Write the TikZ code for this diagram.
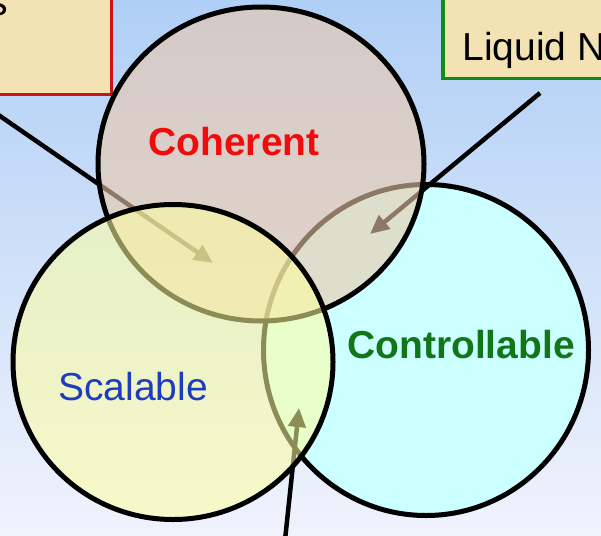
\documentclass[tikz,border=0pt]{standalone}
\usepackage{fontspec}
\setmainfont{Liberation Sans}
\usetikzlibrary{arrows.meta,shapes.geometric}
\definecolor{bgtop}{RGB}{176,207,246}
\definecolor{bgbottom}{RGB}{240,243,252}
\definecolor{boxfill}{RGB}{242,226,180}
\definecolor{boxred}{RGB}{204,20,20}
\definecolor{boxgreen}{RGB}{20,140,20}
\definecolor{cohfill}{RGB}{235,200,170}
\definecolor{scafill}{RGB}{255,255,160}
\definecolor{confill}{RGB}{204,255,255}
\definecolor{cohred}{RGB}{240,12,12}
\definecolor{scablue}{RGB}{30,60,190}
\definecolor{congreen}{RGB}{16,118,24}
\def\bigfont{\fontsize{39}{47}\selectfont}
\tikzset{
	venn/.style={ellipse, draw=black, line width=5pt, inner sep=0pt},
	pointer/.style={line width=4.5pt, -{Triangle[length=19pt,width=17pt]}},
	infobox/.style={rectangle, line width=3.5pt, fill=boxfill, inner sep=0pt, minimum width=300pt, minimum height=200pt},
	setlabel/.style={anchor=base, font=\bigfont}
}

\begin{document}
\begin{tikzpicture}[x=1pt,y=-1pt]
				\useasboundingbox (0,0) rectangle (601,535);
				\shade[top color=bgtop, bottom color=bgbottom] (0,0) rectangle (601,535);
				
				\node[infobox, draw=boxred, anchor=south east] (lbox) at (113,96) {};
				\node[anchor=base east, font=\bigfont] (ltext) at (12,16) {s};
				\node[infobox, draw=boxgreen, anchor=south west] (rbox) at (441,80) {};
				\node[anchor=base west, font=\fontsize{39}{47}\selectfont] (rtext) at (459,60) {Liquid N};
				
				\node[venn, fill=confill, minimum width=325pt, minimum height=331pt] (con) at (426,350) {};
				
				\coordinate (lfoot) at (-29,96);
				\coordinate (ltip) at (213,263);
				\coordinate (rfoot) at (540,93);
				\coordinate (rtip) at (370,234);
				\coordinate (bfoot) at (285,540);
				\coordinate (btip) at (299,408);
				\draw[pointer] (lfoot) -- (ltip);
				\draw[pointer] (rfoot) -- (rtip);
				\draw[pointer] (bfoot) -- (btip);
				
				\node[venn, fill=cohfill, fill opacity=0.6, minimum width=326pt, minimum height=314pt] (coh) at (261,164) {};
				\node[venn, fill=scafill, fill opacity=0.55, minimum width=320pt, minimum height=315pt] (sca) at (173,362) {};
				
				\node[setlabel, text=cohred] (cohlabel) at (234,155) {\bfseries Coherent};
				\node[setlabel, text=scablue] (scalabel) at (133,400) {Scalable};
				\node[setlabel, text=congreen] (conlabel) at (461,358) {\bfseries Controllable};
			\end{tikzpicture}
\end{document}
